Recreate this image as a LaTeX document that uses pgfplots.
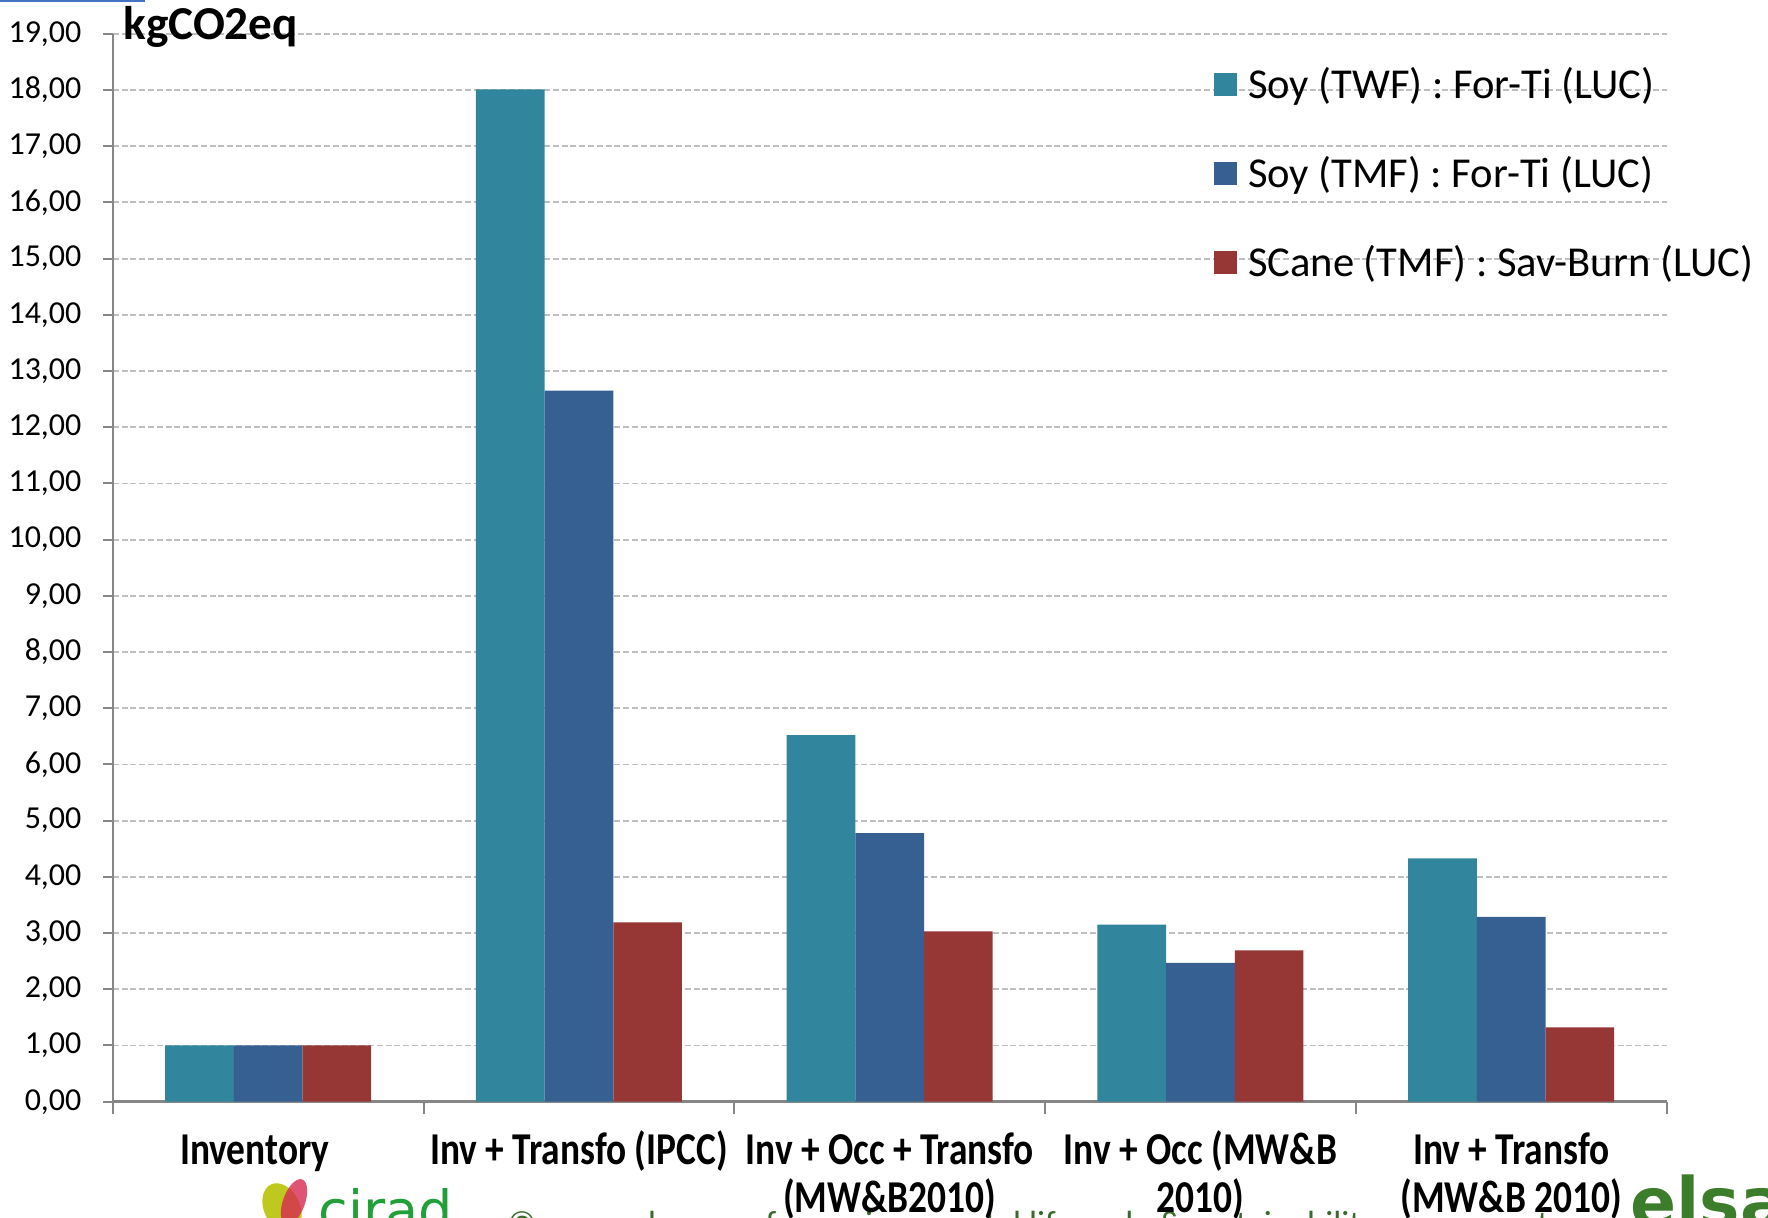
\documentclass[border=0pt]{standalone}
\usepackage{fontspec}
\setmainfont{Carlito}
\newfontfamily\catfont[FakeStretch=0.82]{Carlito}
\newfontfamily\logofont{DejaVu Sans}
\usepackage{pgfplots}
\pgfplotsset{compat=1.18}
\definecolor{cTeal}{RGB}{49,133,156}
\definecolor{cBlue}{RGB}{55,96,146}
\definecolor{cRed}{RGB}{150,55,53}
\definecolor{gridc}{RGB}{191,191,191}
\definecolor{axc}{RGB}{134,134,134}
\definecolor{ciradgreen}{RGB}{34,160,56}
\definecolor{footgreen}{RGB}{60,105,45}
\definecolor{elsagreen}{RGB}{60,125,43}
\newcommand\fl{\rule{0pt}{17pt}}
\begin{document}
\begin{tikzpicture}
\useasboundingbox (0,0) rectangle (884pt,609pt);
\clip (0,0) rectangle (884pt,609pt);
% footer (partly hidden)
\draw[color={rgb,255:red,68;green,114;blue,196}, line width=0.7pt] (-1pt,608.5pt) -- (72pt,608.5pt) -- (72pt,612pt);
\fill[color={rgb,255:red,190;green,200;blue,30}, rotate around={25:(141pt,5pt)}] (141pt,5pt) ellipse (9pt and 13pt);
\fill[color={rgb,255:red,215;green,40;blue,80}, opacity=0.8, rotate around={-20:(147pt,8pt)}] (147pt,8pt) ellipse (5.5pt and 12pt);
\node[anchor=base west, inner sep=0pt, text=ciradgreen, font=\logofont\fontsize{27}{30}\selectfont] at (159pt,-5.8pt) {cirad};
\node[anchor=base west, inner sep=0pt, text=footgreen, font=\fontsize{17.5}{20}\selectfont] at (253.5pt,-9pt) {\textcopyright{} research group for environmental life cycle \& sustainability assessment};
\node[anchor=base west, inner sep=0pt, text=elsagreen, font=\logofont\bfseries\fontsize{34}{38}\selectfont] at (815pt,-4.5pt) {elsa};
\begin{axis}[
  at={(56.4pt,58.15pt)}, anchor=south west,
  scale only axis, width=776.9pt, height=533.95pt,
  xmin=-0.5, xmax=4.5, ymin=0, ymax=19,
  ybar=0pt, bar width=0.221,
  axis lines*=left,
  axis line style={axc, line width=1pt},
  x axis line style={line width=1.5pt},
  ytick={0,1,...,19},
  ymajorgrids,
  grid style={gridc, line width=0.9pt, dash pattern=on 3pt off 1.4pt},
  xtick={0,1,2,3,4},
  xticklabels={{\fl Inventory\hspace*{13.5pt}},{\fl Inv + Transfo (IPCC)},{\fl Inv + Occ + Transfo\\[2pt](MW\&B2010)},{\fl Inv + Occ (MW\&B\\[2pt]2010)},{\fl Inv + Transfo\\[2pt](MW\&B 2010)}},
  every major x tick/.append style={draw=none},
  minor xtick={-0.5,0.5,...,4.5},
  tick align=outside,
  major tick length=5pt, minor tick length=6.3pt,
  tick style={axc, line width=1pt},
  scaled y ticks=false,
  /pgf/number format/assume math mode=true,
  yticklabel style={/pgf/number format/fixed, /pgf/number format/fixed zerofill, /pgf/number format/precision=2, /pgf/number format/use comma, font=\fontsize{16}{19}\selectfont, anchor=east, inner sep=0pt, xshift=-10.5pt},
  xticklabel style={font=\catfont\bfseries\fontsize{22.8}{22}\selectfont, align=center, anchor=north, inner sep=0pt, yshift=-9pt},
  legend style={draw=none, fill=none, at={(0.7087,0.9676)}, anchor=north west, inner sep=0pt, outer sep=0pt, row sep=24.5pt, column sep=5.75pt, font=\fontsize{21.3}{25}\selectfont, nodes={inner sep=0pt, text height=15pt, text depth=5pt, anchor=base west}},
  legend cell align=left,
  legend image code/.code={\fill[#1] (0pt,1.25pt) rectangle (11.3pt,12.55pt);},
]
\addplot[fill=cTeal, draw=none] coordinates {(0,1) (1,18.01) (2,6.52) (3,3.15) (4,4.33)};
\addplot[fill=cBlue, draw=none] coordinates {(0,1) (1,12.65) (2,4.78) (3,2.47) (4,3.29)};
\addplot[fill=cRed, draw=none] coordinates {(0,1) (1,3.19) (2,3.03) (3,2.69) (4,1.32)};
\legend{Soy (TWF) : For-Ti (LUC), Soy (TMF) : For-Ti (LUC), SCane (TMF) : Sav-Burn (LUC)}
\end{axis}
\node[anchor=base west, inner sep=0pt, font=\bfseries\fontsize{23.6}{28}\selectfont] at (61.5pt,589.3pt) {kgCO2eq};
\end{tikzpicture}
\end{document}
